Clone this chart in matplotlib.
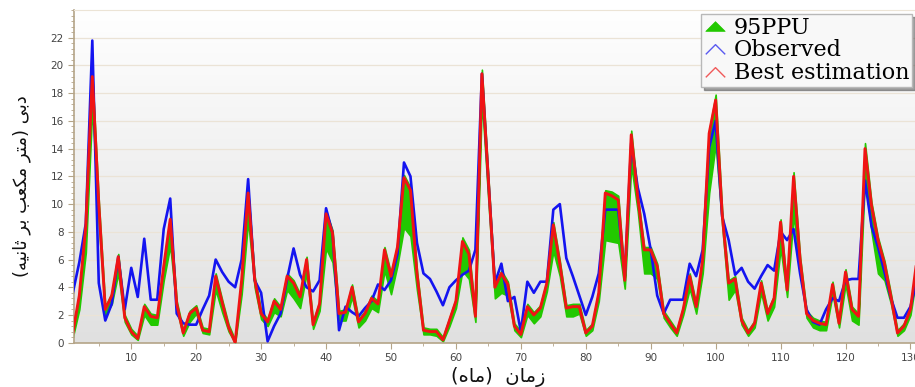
import numpy as np
import matplotlib
matplotlib.use("Agg")
import matplotlib.pyplot as plt
from matplotlib.colors import LinearSegmentedColormap
from matplotlib.lines import Line2D
from matplotlib.path import Path
from matplotlib.ticker import MultipleLocator

months = list(range(1, 132))

observed = [3.6, 5.8, 8.6, 21.8, 4.3, 1.6, 2.8, 6.2, 2.4, 5.4,
            3.3, 7.5, 3.1, 3.1, 8.2, 10.4, 2.1, 1.4, 1.3, 1.3,
            2.4, 3.4, 6.0, 5.1, 4.4, 4.0, 6.0, 11.8, 4.5, 3.6,
            0.1, 1.2, 2.1, 4.6, 6.8, 4.9, 4.0, 3.7, 4.5, 9.7,
            7.9, 0.9, 2.6, 2.2, 1.9, 2.5, 3.0, 4.2, 3.8, 4.5,
            6.4, 13.0, 12.0, 7.2, 5.0, 4.6, 3.7, 2.7, 4.0, 4.5,
            4.9, 5.2, 6.7, 19.4, 11.7, 4.3, 5.7, 3.0, 3.3, 0.8,
            4.4, 3.6, 4.4, 4.4, 9.6, 10.0, 6.1, 4.8, 3.4, 2.0,
            3.3, 5.0, 9.6, 9.6, 9.6, 4.8, 14.4, 11.2, 9.3, 6.7,
            3.4, 2.1, 3.1, 3.1, 3.1, 5.7, 4.8, 6.7, 14.1, 16.0,
            9.1, 7.4, 4.9, 5.4, 4.4, 3.9, 4.8, 5.6, 5.2, 8.0,
            7.4, 8.2, 5.0, 2.4, 1.5, 1.3, 2.4, 3.2, 3.0, 4.5,
            4.6, 4.6, 11.7, 8.4, 6.9, 5.1, 3.2, 1.8, 1.8, 2.6,
            4.5]

best = [0.7, 3.4, 8.4, 19.2, 10.0, 2.4, 3.4, 6.2, 1.8, 0.8,
        0.3, 2.6, 1.9, 1.8, 5.5, 8.9, 2.8, 0.7, 2.1, 2.5,
        0.9, 0.8, 4.8, 2.9, 1.1, 0.0, 4.5, 10.8, 4.6, 2.1,
        1.5, 3.0, 2.4, 4.8, 4.3, 3.3, 6.0, 1.3, 2.8, 9.3,
        7.9, 2.1, 2.2, 4.0, 1.5, 2.1, 3.2, 2.8, 6.7, 4.8,
        6.9, 11.9, 11.0, 5.0, 0.9, 0.8, 0.8, 0.2, 1.6, 3.0,
        7.3, 6.4, 1.9, 19.4, 11.7, 4.0, 5.0, 4.2, 1.2, 0.6,
        2.6, 2.0, 2.5, 4.3, 8.5, 5.7, 2.5, 2.6, 2.6, 0.7,
        1.2, 3.6, 10.8, 10.6, 10.3, 4.5, 15.0, 10.5, 6.7, 6.7,
        5.5, 2.1, 1.4, 0.7, 2.4, 4.8, 2.6, 6.0, 15.1, 17.5,
        9.3, 4.3, 4.6, 1.6, 0.7, 1.4, 4.3, 2.1, 3.2, 8.7,
        3.8, 12.0, 6.0, 2.1, 1.6, 1.4, 1.3, 4.2, 1.4, 5.1,
        2.4, 1.9, 14.0, 9.9, 7.4, 5.7, 3.3, 0.7, 1.2, 2.4,
        6.0]

ppu_lower = [0.4, 2.4, 6.5, 17.0, 8.5, 2.0, 2.8, 5.0, 1.5, 0.6,
             0.2, 2.0, 1.3, 1.3, 4.5, 7.0, 2.4, 0.5, 1.5, 2.1,
             0.7, 0.6, 3.8, 2.2, 0.8, 0.0, 3.5, 8.8, 4.0, 1.7,
             1.2, 2.2, 1.9, 3.8, 3.2, 2.5, 5.0, 1.0, 2.3, 6.8,
             5.8, 1.6, 1.6, 3.3, 1.1, 1.6, 2.5, 2.2, 5.2, 3.5,
             5.6, 8.3, 7.7, 3.8, 0.6, 0.6, 0.5, 0.1, 1.2, 2.5,
             5.2, 4.6, 1.5, 17.5, 10.2, 3.2, 3.6, 3.4, 0.9, 0.4,
             2.0, 1.4, 1.9, 3.7, 6.6, 4.8, 1.9, 1.9, 2.1, 0.5,
             0.9, 3.0, 7.4, 7.3, 7.2, 3.9, 12.8, 9.5, 5.0, 5.0,
             4.6, 1.8, 1.1, 0.5, 2.0, 3.9, 2.1, 5.0, 10.8, 14.3,
             8.5, 3.1, 3.8, 1.3, 0.5, 1.1, 3.6, 1.6, 2.6, 6.8,
             3.3, 9.2, 5.3, 1.8, 1.1, 0.9, 0.9, 3.5, 1.1, 4.2,
             1.6, 1.3, 12.0, 8.0, 5.0, 4.5, 2.8, 0.5, 0.9, 2.0,
             5.0]

ppu_upper = [0.9, 3.6, 8.6, 19.4, 10.2, 2.6, 3.6, 6.4, 2.0, 1.0,
             0.5, 2.8, 2.1, 2.0, 5.7, 9.1, 3.0, 0.9, 2.3, 2.7,
             1.1, 1.0, 5.0, 3.1, 1.3, 0.2, 4.7, 11.0, 4.8, 2.3,
             1.7, 3.2, 2.6, 5.0, 4.5, 3.5, 6.2, 1.5, 3.0, 9.5,
             8.1, 2.3, 2.4, 4.2, 1.7, 2.3, 3.4, 3.0, 6.9, 5.0,
             7.1, 12.1, 11.2, 5.2, 1.1, 1.0, 1.0, 0.4, 1.8, 3.2,
             7.6, 6.7, 2.1, 19.7, 11.9, 4.2, 5.2, 4.4, 1.4, 0.8,
             2.8, 2.2, 2.7, 4.5, 8.7, 5.9, 2.7, 2.8, 2.8, 0.9,
             1.4, 3.8, 11.0, 10.9, 10.6, 4.7, 15.3, 10.7, 6.9, 6.9,
             5.7, 2.3, 1.6, 0.9, 2.6, 5.0, 2.8, 6.2, 15.3, 17.9,
             9.5, 4.5, 4.8, 1.8, 0.9, 1.6, 4.5, 2.3, 3.4, 8.9,
             4.0, 12.3, 6.2, 2.3, 1.8, 1.6, 1.5, 4.4, 1.6, 5.3,
             2.6, 2.1, 14.4, 10.1, 7.6, 5.9, 3.5, 0.9, 1.4, 2.6,
             6.2]

# Persian labels (presentation forms, visual order)
ylabel_fa = ("(\uFEEA\uFBFF\uFEE7\uFE8E\uFE9B \uFEAE\uFE91 "
             "\uFE90\uFECC\uFB91\uFEE3 \uFEAE\uFE98\uFEE3) \uFBFD\uFE91\uFEA9")
xlabel_fa = "(\uFEE9\uFE8E\uFEE3)  \uFEE5\uFE8E\uFEE3\uFEAF"

legend_labels = ["95PPU", "Observed", "Best estimation"]

GREEN = "#22c800"
BLUE = "#1414f0"
RED = "#f01414"
AXC = "#b4a488"

fig = plt.figure(figsize=(9.15, 3.87), dpi=100)
fig.patch.set_facecolor("white")
ax = fig.add_axes([0.081, 0.1145, 0.919, 0.8595])

cmap = LinearSegmentedColormap.from_list("bg", ["#ffffff", "#e0e0e0"])
ax.imshow(np.linspace(0, 1, 256).reshape(-1, 1), cmap=cmap, aspect="auto",
          extent=[0, 1, 0, 1], transform=ax.transAxes, zorder=0)

ax.fill_between(months, ppu_lower, ppu_upper, color=GREEN, lw=1.2,
                edgecolor=GREEN, zorder=2)
ax.plot(months, observed, color=BLUE, lw=1.9, zorder=3)
ax.plot(months, best, color=RED, lw=2.1, zorder=4)

ax.set_xlim(1.2, 130.7)
ax.set_ylim(0, 24)
ax.set_yticks(range(0, 24, 2))
ax.yaxis.set_minor_locator(MultipleLocator(0.4))
ax.set_xticks(range(10, 131, 10))
ax.xaxis.set_minor_locator(MultipleLocator(5))
for y in range(2, 24, 2):
    ax.axhline(y, color="#ebe3d6", lw=0.9, zorder=1)

for s in ["left", "bottom"]:
    ax.spines[s].set_color(AXC)
    ax.spines[s].set_linewidth(1.2)
ax.spines["top"].set_color("#ece4d6")
ax.spines["right"].set_visible(False)
ax.tick_params(axis="both", which="major", direction="out", length=4,
               color=AXC, labelsize=7.5, labelcolor="#444444")
ax.tick_params(axis="both", which="minor", direction="out", length=2,
               color=AXC)

fig.text(0.024, 0.52, ylabel_fa, rotation=90, ha="center", va="center",
         fontsize=13, family=["DejaVu Sans"], color="#111111")
fig.text(0.545, 0.025, xlabel_fa, ha="center", va="center",
         fontsize=14, family=["DejaVu Sans"], color="#111111")

tri = Path([(-1.0, -0.5), (0.0, 0.5), (1.0, -0.5), (-1.0, -0.5)],
           [Path.MOVETO, Path.LINETO, Path.LINETO, Path.CLOSEPOLY])
chev = Path([(-1.0, -0.5), (0.0, 0.5), (1.0, -0.5)],
            [Path.MOVETO, Path.LINETO, Path.LINETO])
handles = [
    Line2D([], [], marker=tri, linestyle="none", color=GREEN, markersize=14,
           markeredgewidth=0.5),
    Line2D([], [], marker=chev, linestyle="none", color="#5a5af0",
           markerfacecolor="none", markersize=14, markeredgewidth=1.0),
    Line2D([], [], marker=chev, linestyle="none", color="#f05a5a",
           markerfacecolor="none", markersize=14, markeredgewidth=1.0),
]
leg = fig.legend(handles, legend_labels, loc="upper right",
                 bbox_to_anchor=(0.997, 0.964), frameon=True, fancybox=False,
                 shadow=True, edgecolor="#b8b8b8", facecolor="#f8f8f8",
                 framealpha=1.0, handletextpad=0.35, handlelength=1.0,
                 borderpad=0.12, labelspacing=0.04, borderaxespad=0.0,
                 prop={"family": "DejaVu Serif", "size": 16})
leg.set_zorder(10)

fig.savefig("out.png", dpi=100)
